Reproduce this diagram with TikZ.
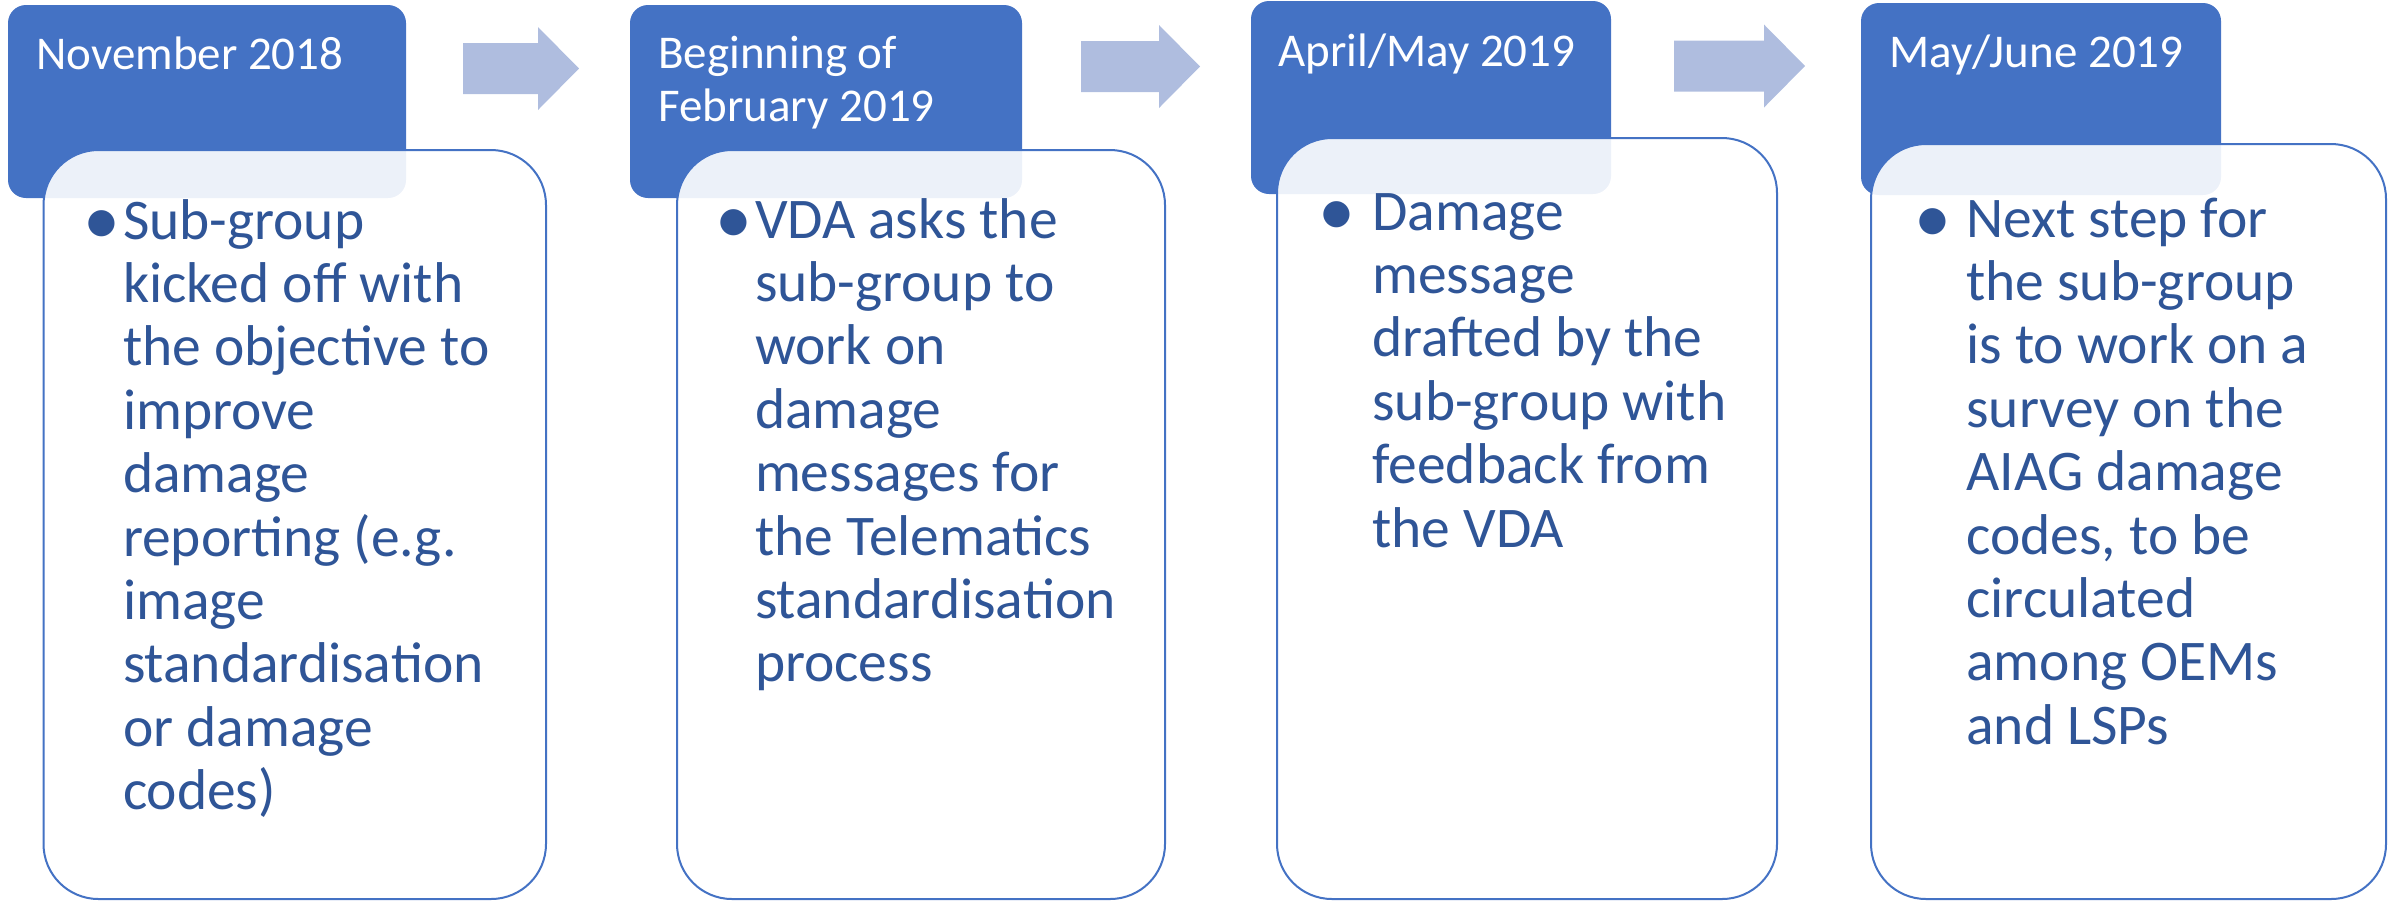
\documentclass[tikz,border=0pt]{standalone}
\usepackage{fontspec}
\setmainfont{Carlito}
\usetikzlibrary{calc}
\definecolor{hdrblue}{HTML}{4472C4}
\definecolor{arrowblue}{HTML}{AFBDDF}
\definecolor{itemblue}{HTML}{2F5597}
\tikzset{
    header/.style={fill=hdrblue, rounded corners=9pt, anchor=north west, inner sep=0, outer sep=0},
    card/.style={draw=hdrblue, line width=1pt, fill=white, fill opacity=0.9,
        rounded corners=27.5pt, anchor=north west, inner sep=0, outer sep=0},
    datetext/.style={text=white, anchor=base west, inner sep=0},
    itemtext/.style={text=itemblue, anchor=base west, inner sep=0}
}
\newcommand{\datefont}{\fontsize{23.5}{26.5}\selectfont}
\newcommand{\itemfont}{\fontsize{28.75}{31.7}\selectfont}
\newcommand{\dotfont}{\fontsize{37}{40}\selectfont}
% block arrow: start, head start, tip, middle height
\newcommand{\steparrow}[4]{
    \fill[arrowblue] (#1, #4-25.5) -- (#2, #4-25.5) -- (#2, #4-41.5) -- (#3, #4)
        -- (#2, #4+41.5) -- (#2, #4+25.5) -- (#1, #4+25.5) -- cycle;
}

\begin{document}
\begin{tikzpicture}[x=0.5pt, y=-0.5pt]
    \useasboundingbox (0, 0) rectangle (2397, 902);
    % date tabs
    \node[header, minimum width=199pt, minimum height=96.5pt] (hdr1) at (8, 5) {};
    \node[header, minimum width=196pt, minimum height=96.5pt] (hdr2) at (630, 5) {};
    \node[header, minimum width=180pt, minimum height=96.5pt] (hdr3) at (1251, 1) {};
    \node[header, minimum width=180pt, minimum height=96pt] (hdr4) at (1861, 3) {};
    % cards over the tabs
    \node[card, minimum width=251.25pt, minimum height=374.5pt] (card1) at (43.5, 150) {};
    \node[card, minimum width=244pt, minimum height=374.5pt] (card2) at (677, 150) {};
    \node[card, minimum width=250pt, minimum height=380.5pt] (card3) at (1277, 138) {};
    \node[card, minimum width=257.5pt, minimum height=377.5pt] (card4) at (1871, 144) {};
    % arrows
    \steparrow{463}{538}{579}{68.5}
    \steparrow{1081}{1159}{1200}{66.5}
    \steparrow{1674}{1764}{1805}{66}
    % dates
    \node[datetext] (date1) at (36, 69) {\datefont November 2018};
    \node[datetext] (date2) at (658, 68) {\datefont\parbox[t]{190pt}{\raggedright Beginning of\\February 2019}};
    \node[datetext] (date3) at (1278, 66) {\datefont April/May 2019};
    \node[datetext] (date4) at (1889, 67) {\datefont May/June 2019};
    % bullets
    \node[itemtext] (dot1) at (83, 244) {\dotfont •};
    \node[itemtext] (dot2) at (715, 243) {\dotfont •};
    \node[itemtext] (dot3) at (1318, 235) {\dotfont •};
    \node[itemtext] (dot4) at (1914, 242) {\dotfont •};
    % items
    \node[itemtext] (item1) at (122.6, 239) {\itemfont\parbox[t]{240pt}{\raggedright
        Sub-group\\kicked off with\\the objective to\\improve\\damage\\reporting (e.g.\\image\\standardisation\\or damage\\codes)}};
    \node[itemtext] (item2) at (754.6, 238) {\itemfont\parbox[t]{240pt}{\raggedright
        VDA asks the\\sub-group to\\work on\\damage\\messages for\\the Telematics\\standardisation\\process}};
    \node[itemtext] (item3) at (1372, 230) {\itemfont\parbox[t]{240pt}{\raggedright
        Damage\\message\\drafted by the\\sub-group with\\feedback from\\the VDA}};
    \node[itemtext] (item4) at (1966, 237) {\itemfont\parbox[t]{240pt}{\raggedright
        Next step for\\the sub-group\\is to work on a\\survey on the\\AIAG damage\\codes, to be\\circulated\\among OEMs\\and LSPs}};
\end{tikzpicture}
\end{document}
